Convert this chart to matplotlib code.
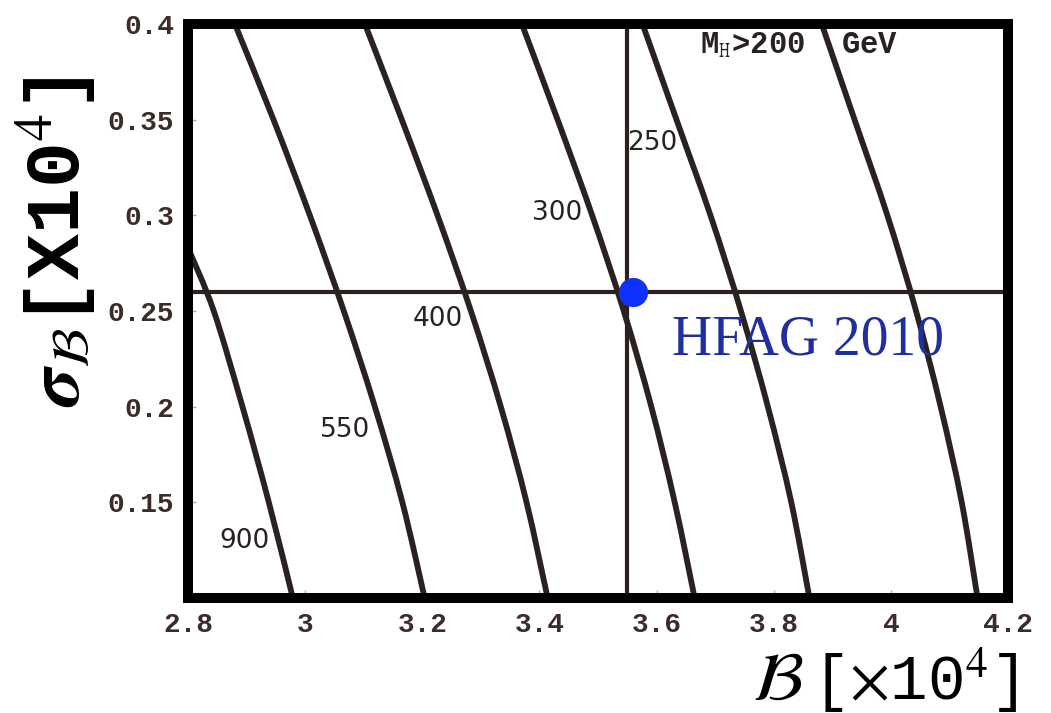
import matplotlib
matplotlib.use('Agg')
import matplotlib.pyplot as plt
from matplotlib.path import Path
from matplotlib.patches import PathPatch

plt.rcParams['mathtext.fontset'] = 'stix'

# branching ratio (x1e4) along each M_H contour, read at fixed sigma values
sigma = [0.40, 0.35, 0.30, 0.25, 0.20, 0.15, 0.10]
b_200 = [3.882, 3.938, 3.994, 4.043, 4.085, 4.121, 4.148]
b_250 = [3.576, 3.634, 3.692, 3.744, 3.790, 3.830, 3.861]
b_300 = [3.370, 3.431, 3.490, 3.544, 3.591, 3.631, 3.665]
b_400 = [3.102, 3.165, 3.226, 3.283, 3.334, 3.378, 3.414]
b_550 = [2.880, 2.946, 3.008, 3.066, 3.119, 3.166, 3.204]
# the 900 GeV line enters through the left edge
sigma_900 = [0.283, 0.25, 0.20, 0.15, 0.10]
b_900 = [2.800, 2.844, 2.893, 2.938, 2.979]

# HFAG 2010 average
hfag_b = 3.55
hfag_sigma = 0.26
hfag_dot = 3.56

xticks = [2.8, 3.0, 3.2, 3.4, 3.6, 3.8, 4.0, 4.2]
xtick_labels = ['2.8', '3', '3.2', '3.4', '3.6', '3.8', '4', '4.2']
yticks = [0.15, 0.2, 0.25, 0.3, 0.35, 0.4]
ytick_labels = ['0.15', '0.2', '0.25', '0.3', '0.35', '0.4']


def smooth_path(xs, ys):
    # catmull-rom through the points, as cubic bezier segments
    pts = list(zip(xs, ys))
    verts = [pts[0]]
    codes = [Path.MOVETO]
    n = len(pts)
    for i in range(n - 1):
        p0 = pts[i - 1] if i > 0 else pts[i]
        p1, p2 = pts[i], pts[i + 1]
        p3 = pts[i + 2] if i + 2 < n else p2
        c1 = (p1[0] + (p2[0] - p0[0]) / 6, p1[1] + (p2[1] - p0[1]) / 6)
        c2 = (p2[0] - (p3[0] - p1[0]) / 6, p2[1] - (p3[1] - p1[1]) / 6)
        verts += [c1, c2, p2]
        codes += [Path.CURVE4] * 3
    return Path(verts, codes)


W, H = 1051, 713
fig = plt.figure(figsize=(W / 100, H / 100), dpi=100)
ax = fig.add_axes([188 / W, 1 - 598 / H, 820 / W, 574 / H])

lc = '#2a2222'
for xs in (b_200, b_250, b_300, b_400, b_550):
    ax.add_patch(PathPatch(smooth_path(xs, sigma), fill=False, ec=lc, lw=4.2,
                           capstyle='butt', zorder=3))
ax.add_patch(PathPatch(smooth_path(b_900, sigma_900), fill=False, ec=lc, lw=4.2,
                       capstyle='butt', zorder=3))

ax.axvline(hfag_b, color='#2e201c', lw=3, zorder=2)
ax.axhline(hfag_sigma, color='#2e201c', lw=3, zorder=2)
ax.plot([hfag_dot], [hfag_sigma], 'o', color='#1030ff', ms=21, mec='none', zorder=5)
ax.text(3.626, 0.2348, 'HFAG 2010', color='#1f2f9f', fontsize=40,
        family='Liberation Serif', ha='left', va='center', zorder=6)

# contour labels
lab_kw = dict(fontsize=19, color='#2a2222', family='DejaVu Sans', ha='center', va='center', zorder=4)
ax.text(3.592, 0.338, '250', **lab_kw)
ax.text(3.430, 0.301, '300', **lab_kw)
ax.text(3.227, 0.246, '400', **lab_kw)
ax.text(3.068, 0.188, '550', **lab_kw)
ax.text(2.897, 0.130, '900', **lab_kw)

ax.text(3.674, 0.3885, r'M$_{\mathtt{H}}$>200  GeV', fontsize=22, color='#2a2222',
        family='Liberation Mono', weight='bold', ha='left', va='center', zorder=4)

ax.set_xlim(2.8, 4.2)
ax.set_ylim(0.1, 0.4)
ax.set_xticks(xticks)
ax.set_xticklabels(xtick_labels)
ax.set_yticks(yticks)
ax.set_yticklabels(ytick_labels)
ax.tick_params(direction='in', length=6, width=1, color='#aaaaaa', pad=10,
               labelsize=20, labelcolor='#3b2b2b')
for lbl in ax.get_xticklabels() + ax.get_yticklabels():
    lbl.set_family('Liberation Mono')
    lbl.set_weight('bold')
for s in ax.spines.values():
    s.set_linewidth(7.2)
    s.set_color('black')
    s.set_zorder(7)

fig.text(56 / W, 1 - 242 / H, r'$\mathbfit{\sigma}_{\mathcal{B}}$[X10$^{4}$]', rotation=90,
         fontsize=55, family='Liberation Mono', weight='bold', color='black',
         ha='center', va='center')
fig.text(778 / W, 1 - 680 / H, r'$\mathcal{B}$', fontsize=50, color='black',
         ha='center', va='center')
fig.text(812 / W, 1 - 680 / H, r'[$\times$10$^{4}$]', fontsize=45,
         family='Liberation Mono', color='black', ha='left', va='center')

fig.savefig('out.png', dpi=100, facecolor='white')
